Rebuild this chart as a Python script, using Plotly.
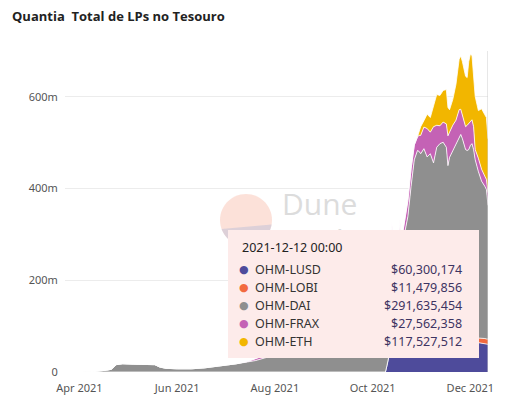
import plotly.graph_objects as go
import math

dates = ["2021-04-03","2021-04-10","2021-04-18","2021-04-21","2021-04-24","2021-04-28","2021-05-05","2021-05-12",
         "2021-05-18","2021-05-21","2021-05-25","2021-06-01","2021-06-10","2021-06-18","2021-06-25","2021-07-01",
         "2021-07-08","2021-07-15","2021-07-20","2021-07-27","2021-08-03","2021-08-10","2021-08-17","2021-08-24",
         "2021-09-01","2021-09-08","2021-09-15","2021-09-22","2021-09-29","2021-10-05","2021-10-09","2021-10-10",
         "2021-10-11","2021-10-12","2021-10-13","2021-10-14","2021-10-17","2021-10-18","2021-10-19","2021-10-21",
         "2021-10-23","2021-10-25","2021-10-27","2021-10-29","2021-10-30","2021-10-31","2021-11-02","2021-11-04",
         "2021-11-06","2021-11-08","2021-11-10","2021-11-12","2021-11-14","2021-11-16","2021-11-17","2021-11-18",
         "2021-11-20","2021-11-22","2021-11-24","2021-11-25","2021-11-26","2021-11-28","2021-11-29","2021-11-30",
         "2021-12-01","2021-12-02","2021-12-03","2021-12-04","2021-12-06","2021-12-08","2021-12-10","2021-12-11",
         "2021-12-12"]

# values in millions of USD
ohm_lusd = [0]*31 + [15,32,40,42,43,44,44,45,45,
            46,47,48,48,49,50,50,51,
            52,52,53,54,55,55,56,56,
            57,58,58,59,59,60,60,61,
            61,62,62,63,64,63,62,61,
            60.300174]
ohm_lobi = [0]*64 + [5,8,9,10,10,11,11,11,11.479856]
ohm_dai = [0,1,4,6,16,18,17,17,
           16,11,8,7,7,9,12,14,
           18,22,25,32,45,60,75,90,
           110,130,150,170,195,215,225,228,
           215,205,205,205,210,212,222,261,
           293,358,415,435,432,426,437,418,
           424,404,437,444,446,435,394,412,
           426,438,456,459,450,425,423,424,
           428,428,414,390,363,342,332,326,
           291.635454]
ohm_frax = [0]*17 + [1,4,6,8,9,10,10,
            12,12,14,15,15,16,16,16,
            16,16,80,18,18,75,20,22,
            35,38,32,30,35,40,47,62,
            47,79,48,39,44,51,65,55,
            55,53,58,55,52,50,55,57,
            52,52,50,22,29,26,22,22,
            27.562358]
ohm_eth = [0]*44 + [8,19,14,31,
           32,48,67,66,69,75,62,49,
           56,78,110,116,116,110,104,135,
           147,140,114,116,104,132,134,135,
           117.527512]

series_names = ["OHM-LUSD", "OHM-LOBI", "OHM-DAI", "OHM-FRAX", "OHM-ETH"]
series_values = [ohm_lusd, ohm_lobi, ohm_dai, ohm_frax, ohm_eth]
series_colors = ["#4e4b9b", "#f26a3f", "#8f8f8f", "#c462b5", "#f2b600"]

tick_vals = [0, 200e6, 400e6, 600e6]
tick_text = ["0", "200m", "400m", "600m"]

hover_date = "2021-12-12 00:00"

for v in series_values:
    assert len(v) == len(dates), (len(v), len(dates))

fig = go.Figure()
for name, vals, col in zip(series_names, series_values, series_colors):
    fig.add_trace(go.Scatter(
        x=dates, y=[v * 1e6 for v in vals], name=name, mode="lines",
        stackgroup="one", line=dict(color="white", width=0.8),
        fillcolor=col, hoverinfo="skip"))

W, H = 508, 399
L, R, T, B = 65, 20, 51, 27
PW, PH = W - L - R, H - T - B

def px(x):
    return (x - L) / PW

def py(y):
    return (H - B - y) / PH

shapes = []
# Dune watermark circle
cx, cy, r = 246, 220, 26
pts = [(cx + r*math.cos(a*math.pi/30), cy + r*math.sin(a*math.pi/30)) for a in range(60)]
path = "M " + " L ".join(f"{px(a):.4f},{py(b):.4f}" for a, b in pts) + " Z"
shapes.append(dict(type="path", path=path, xref="paper", yref="paper",
                   fillcolor="rgba(249,200,185,0.55)", line=dict(width=0), layer="below"))
seg = []
for i in range(0, 61):
    a = math.radians(10 + i*(160-10)/60)
    seg.append((cx + r*math.cos(a), cy + r*math.sin(a)))
path2 = "M " + " L ".join(f"{px(a):.4f},{py(b):.4f}" for a, b in seg) + " Z"
shapes.append(dict(type="path", path=path2, xref="paper", yref="paper",
                   fillcolor="rgba(200,196,215,0.6)", line=dict(width=0), layer="below"))

# hover spike line
shapes.append(dict(type="line", x0="2021-12-12", x1="2021-12-12", y0=0, y1=1,
                   xref="x", yref="paper", line=dict(color="#cfcfcf", width=1)))

annotations = []
annotations.append(dict(text="Dune", x=px(280), y=py(203), xref="paper", yref="paper",
                        xanchor="left", yanchor="middle", showarrow=False,
                        font=dict(family="Open Sans", size=30, color="#dcdcdc")))
annotations.append(dict(text="Analytics", x=px(280), y=py(240), xref="paper", yref="paper",
                        xanchor="left", yanchor="middle", showarrow=False,
                        font=dict(family="Open Sans", size=30, color="#dcdcdc")))

# tooltip background (annotation drawn after the watermark so it covers it)
bx0, bx1, by0, by1 = 228, 479, 230, 358
annotations.append(dict(text=" ", x=px(bx0), y=py(by0), xref="paper", yref="paper",
                        xanchor="left", yanchor="top", showarrow=False,
                        width=bx1 - bx0, height=by1 - by0, borderpad=0, borderwidth=0,
                        bgcolor="rgb(253,235,234)", font=dict(size=1)))

tip_font = "Noto Sans"
annotations.append(dict(text=hover_date, x=px(240), y=py(247), xref="paper", yref="paper",
                        xanchor="left", yanchor="middle", showarrow=False,
                        font=dict(family=tip_font, size=12.5, color="#222222")))
row_y = [269, 287, 305, 323.5, 341.5]
for name, vals, col, yy in zip(series_names, series_values, series_colors, row_y):
    annotations.append(dict(text="\u25cf", x=px(243.5), y=py(yy), xref="paper", yref="paper",
                            xanchor="center", yanchor="middle", showarrow=False,
                            font=dict(family="DejaVu Sans", size=11, color=col)))
    annotations.append(dict(text=name, x=px(253), y=py(yy), xref="paper", yref="paper",
                            xanchor="left", yanchor="middle", showarrow=False,
                            font=dict(family=tip_font, size=12.5, color="#333333")))
    annotations.append(dict(text="${:,.0f}".format(vals[-1] * 1e6), x=px(464), y=py(yy),
                            xref="paper", yref="paper", xanchor="right", yanchor="middle",
                            showarrow=False, font=dict(family=tip_font, size=12.5, color="#3d3462")))

fig.update_layout(
    width=W, height=H,
    margin=dict(l=L, r=R, t=T, b=B, autoexpand=False),
    paper_bgcolor="white", plot_bgcolor="white",
    showlegend=False,
    title=dict(text="<b>Quantia\u00a0 Total de LPs no Tesouro</b>", x=12/W, xanchor="left",
               y=1-16/H, yanchor="middle", font=dict(family="Open Sans", size=13, color="#222222")),
    xaxis=dict(type="date", range=["2021-03-23", "2021-12-12"], tick0="2021-04-01", dtick="M2",
               tickformat="%b %Y", showgrid=False, zeroline=False, showline=False, automargin=False,
               ticks="outside", ticklen=6, tickcolor="rgba(0,0,0,0)",
               tickfont=dict(family="Noto Sans", size=11, color="#555555")),
    yaxis=dict(range=[0, 700e6], tickvals=tick_vals, ticktext=tick_text, automargin=False,
               showgrid=True, gridcolor="#ececec", gridwidth=1, zeroline=False, showline=False,
               ticks="outside", ticklen=4, tickcolor="rgba(0,0,0,0)",
               tickfont=dict(family="Noto Sans", size=11, color="#555555")),
    shapes=shapes, annotations=annotations,
)

fig.write_html("out.html", config={"displayModeBar": False},
               post_script="document.body.style.margin='0';document.body.style.overflow='hidden';")
